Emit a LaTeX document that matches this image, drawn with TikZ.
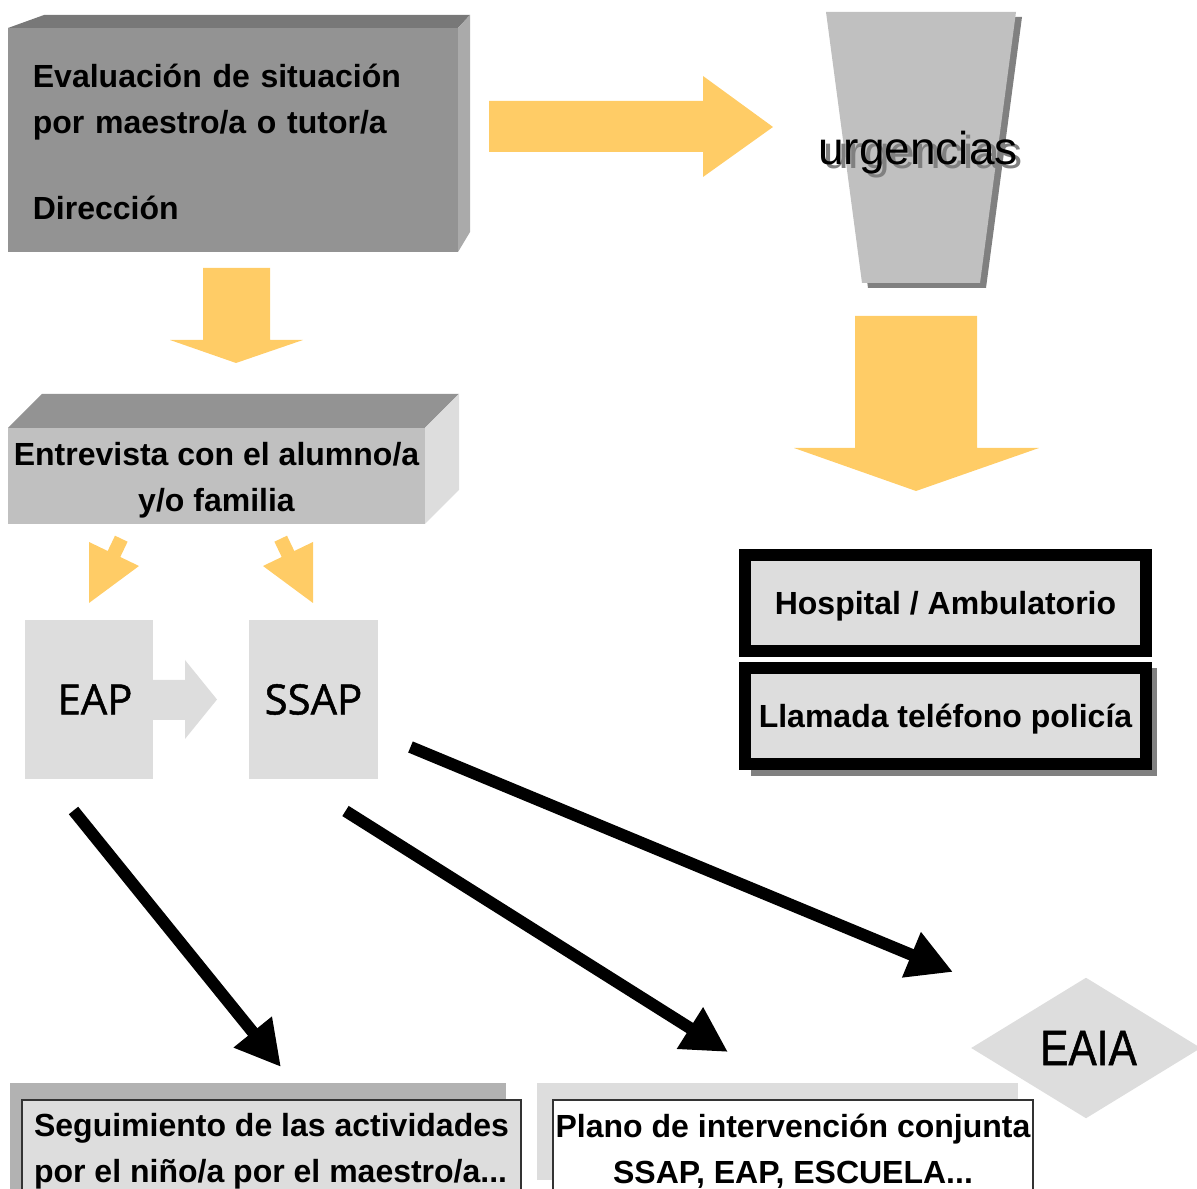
\documentclass[tikz,border=0pt]{standalone}
\usepackage{fontspec}
\setmainfont{Liberation Sans}
\newfontfamily\teamfont[FakeBold=1.2]{Open Sans}
\newfontfamily\narrowfont[FakeStretch=0.85,FakeBold=1]{Liberation Sans}
\usetikzlibrary{arrows.meta,shapes.geometric}

\definecolor{flowyellow}{HTML}{FFCC66}
\definecolor{boxdark}{HTML}{939393}
\definecolor{boxtop}{HTML}{787878}
\definecolor{boxside}{HTML}{AAAAAA}
\definecolor{boxmid}{HTML}{C0C0C0}
\definecolor{boxlight}{HTML}{DDDDDD}
\definecolor{shadowgray}{HTML}{808080}
\definecolor{shadowmid}{HTML}{B2B2B2}

\tikzset{
  bodytext/.style={font=\fontsize{9.1}{13}\selectfont\bfseries},
  flow/.style={fill=flowyellow},
  link/.style={line width=0.12cm, -{Triangle[length=0.45cm,width=0.46cm]}},
  team/.style={fill=boxlight, minimum width=1.28cm, minimum height=1.59cm, inner sep=0, font=\teamfont\fontsize{11.9}{14}\selectfont},
  framed/.style={draw=black, line width=0.12cm, fill=boxlight, minimum width=4.01cm, minimum height=0.96cm, text depth=0pt, bodytext},
  result/.style={draw=black!80, line width=0.4pt, minimum height=1.03cm, inner sep=0, bodytext}
}

\begin{document}
\begin{tikzpicture}[x=0.01cm, y=-0.01cm]
    \useasboundingbox (0,0) rectangle (1197,1189);
    \clip (0,0) rectangle (1197,1189);

    % First step: evaluation
    \fill[boxtop] (8,28) -- (44,15) -- (470,15) -- (458,28) -- cycle;
    \fill[boxside] (458,28) -- (470,15) -- (470,232) -- (458,252) -- cycle;
    \node[fill=boxdark, minimum width=4.5cm, minimum height=2.24cm, text width=4cm, inner xsep=0.25cm, align=left, bodytext] (eval) at (233,140) {\rule{0pt}{0.27cm}Evaluación de situación\\por maestro/a o tutor/a\\[11.5pt]Dirección};

    % Urgent branch
    \fill[flow] (489,101) -- (703,101) -- (703,76) -- (773,127) -- (703,177) -- (703,152) -- (489,152) -- cycle;
    \fill[shadowgray] (832,17) -- (1022,17) -- (986,288) -- (868,288) -- cycle;
    \fill[boxmid] (826,12) -- (1016,12) -- (980,283) -- (862,283) -- cycle;
    \node[anchor=base, inner sep=0, text=shadowgray, font=\fontsize{13.1}{16}\selectfont] (urg-shadow) at (923,169) {urgencias};
    \node[anchor=base, inner sep=0, font=\fontsize{13.1}{16}\selectfont] (urg) at (918,165) {urgencias};
    \fill[flow] (855,316) -- (977,316) -- (977,448) -- (1039,448) -- (916,491) -- (794,448) -- (855,448) -- cycle;

    \node[framed] (hosp) at (945.5,603) {Hospital / Ambulatorio};
    \fill[shadowgray] (751,668) rectangle (1157,776);
    \node[framed] (police) at (945.5,716) {Llamada teléfono policía};

    % Second step: interview
    \fill[flow] (203,268) -- (270,268) -- (270,340) -- (303,340) -- (236,363) -- (170,340) -- (203,340) -- cycle;
    \fill[boxdark] (8,428) -- (42,394) -- (459,394) -- (425,428) -- cycle;
    \fill[boxlight] (425,428) -- (459,394) -- (459,490) -- (425,524) -- cycle;
    \node[fill=boxmid, minimum width=4.17cm, minimum height=0.96cm, inner sep=0, align=center, bodytext] (talk) at (216.5,476) {\rule{0pt}{0.31cm}Entrevista con el alumno/a\\y/o familia};

    \fill[flow] (115,535.7) -- (127.6,541.7) -- (120.3,557) -- (139,566) -- (89,603) -- (89,542) -- (107.7,551) -- cycle;
    \fill[flow] (287,535.7) -- (274.4,541.7) -- (281.7,557) -- (263,566) -- (313,603) -- (313,542) -- (294.3,551) -- cycle;

    % Teams
    \node[team] (eap) at (89,699.5) {\hspace{0.12cm}EAP};
    \fill[boxlight] (153,680) -- (185,680) -- (185,660) -- (217,699.5) -- (185,739) -- (185,720) -- (153,720) -- cycle;
    \node[team] (ssap) at (313.5,699.5) {SSAP};
    \node[diamond, fill=boxlight, minimum width=2.3cm, minimum height=1.41cm, inner sep=0, font=\narrowfont\fontsize{14.2}{17}\selectfont] (eaia) at (1086,1048) {\hspace{0.05cm}EAIA};

    % Outcomes
    \fill[shadowmid] (10,1083) rectangle (506,1200);
    \node[result, fill=boxlight, minimum width=4.99cm, align=left] (follow) at (271.5,1151.5) {Seguimiento de las actividades\\por el niño/a por el maestro/a...};
    \fill[boxlight] (537,1083) rectangle (1018,1180);
    \node[result, fill=white, minimum width=4.8cm, align=center] (plan) at (793,1151.5) {Plano de intervención conjunta\\SSAP, EAP, ESCUELA...};

    % Connections
    \coordinate (eap-out) at (73.5,810.5);
    \coordinate (follow-in) at (281,1067);
    \coordinate (ssap-out) at (345.5,811);
    \coordinate (plan-in) at (728,1052);
    \coordinate (ssap-side) at (410.5,747);
    \coordinate (eaia-in) at (953,972);
    \draw[link] (eap-out) -- (follow-in);
    \draw[link] (ssap-out) -- (plan-in);
    \draw[link] (ssap-side) -- (eaia-in);
\end{tikzpicture}
\end{document}
